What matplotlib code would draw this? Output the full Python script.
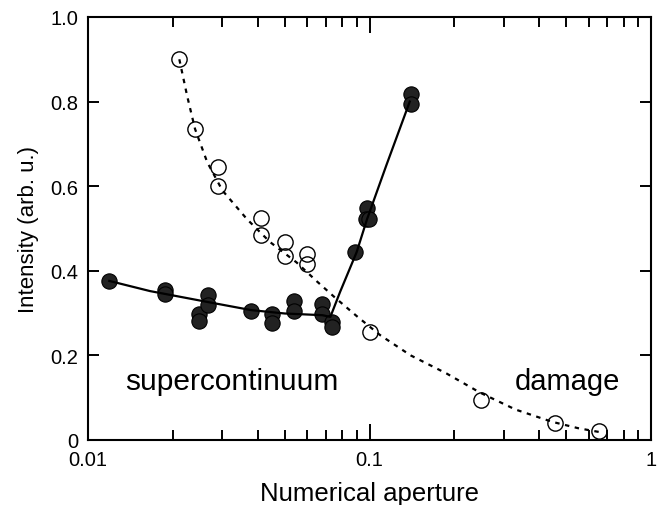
import numpy as np
import matplotlib
matplotlib.use('Agg')
from matplotlib import pyplot as plt
from matplotlib.ticker import FixedLocator, LogLocator, NullFormatter

plt.rcParams['font.family'] = ['Liberation Sans', 'DejaVu Sans']

# --- measured points
# supercontinuum intensity (filled circles)
sc_na = [0.0119, 0.0188, 0.0188, 0.0248, 0.0248, 0.0267, 0.0267, 0.0380,
         0.0452, 0.0452, 0.0541, 0.0541, 0.0680, 0.0680, 0.0738, 0.0738,
         0.0891, 0.0976, 0.0968, 0.0992, 0.140, 0.140]
sc_int = [0.376, 0.355, 0.345, 0.298, 0.282, 0.343, 0.318, 0.305,
          0.298, 0.277, 0.329, 0.305, 0.322, 0.298, 0.279, 0.267,
          0.444, 0.548, 0.522, 0.522, 0.818, 0.794]

# damage threshold (open circles)
dmg_na = [0.0211, 0.0240, 0.0290, 0.0290, 0.0413, 0.0413, 0.0502, 0.0502,
          0.0601, 0.0601, 0.100, 0.248, 0.455, 0.653]
dmg_int = [0.900, 0.735, 0.645, 0.600, 0.525, 0.485, 0.468, 0.435,
           0.440, 0.416, 0.255, 0.095, 0.040, 0.021]

# --- guide curves
sc_fit_na = [0.0119, 0.0166, 0.0267, 0.038, 0.050, 0.068, 0.0726, 0.0786,
             0.090, 0.098, 0.115, 0.139]
sc_fit_int = [0.376, 0.352, 0.326, 0.307, 0.299, 0.295, 0.291, 0.350,
              0.444, 0.522, 0.651, 0.800]

dmg_fit_na = [0.0211, 0.0225, 0.024, 0.0265, 0.030, 0.0367, 0.0443, 0.055,
              0.065, 0.075, 0.09, 0.109, 0.14, 0.188, 0.247, 0.33, 0.445,
              0.55, 0.653]
dmg_fit_int = [0.90, 0.813, 0.735, 0.657, 0.59, 0.522, 0.468, 0.42,
               0.375, 0.338, 0.293, 0.248, 0.20, 0.157, 0.112, 0.072, 0.043,
               0.028, 0.019]

yticks = [0, 0.2, 0.4, 0.6, 0.8, 1.0]
ytick_labels = ['0', '0.2', '0.4', '0.6', '0.8', '1.0']
xticks = [0.01, 0.1, 1]
xtick_labels = ['0.01', '0.1', '1']

fig = plt.figure(figsize=(6.67, 5.06), dpi=100)
ax = fig.add_axes([0.132, 0.1285, 0.844, 0.836])

# open circles then dotted curve on top
ax.plot(dmg_na, dmg_int, 'o', ms=11, mfc='none', mec='black', mew=1.0)
ax.plot(dmg_fit_na, dmg_fit_int, color='black', lw=1.6, ls=(0, (2, 2.5)))

# filled circles then solid curve
ax.plot(sc_na, sc_int, 'o', ms=11, mfc='#222222', mec='black', mew=0.8)
ax.plot(sc_fit_na, sc_fit_int, color='black', lw=1.6)

ax.text(0.01353, 0.12, 'supercontinuum', fontsize=21.5)
ax.text(0.329, 0.12, 'damage', fontsize=21)

ax.set_xscale('log')
ax.set_xlim(0.01, 1)
ax.set_ylim(0, 1.0)
ax.xaxis.set_major_locator(FixedLocator(xticks))
ax.set_xticklabels(xtick_labels)
ax.xaxis.set_minor_locator(LogLocator(base=10, subs=np.arange(2, 10)))
ax.xaxis.set_minor_formatter(NullFormatter())
ax.set_yticks(yticks)
ax.set_yticklabels(ytick_labels)

ax.tick_params(which='both', direction='in', top=True, right=True,
               labelsize=14.5, width=1.4)
ax.tick_params(axis='x', which='major', length=11.5, pad=7)
ax.tick_params(axis='y', which='major', length=8, pad=7)
ax.tick_params(which='minor', length=7)
for sp in ax.spines.values():
    sp.set_linewidth(1.5)

ax.set_xlabel('Numerical aperture', fontsize=18.5, labelpad=9)
ax.set_ylabel('Intensity (arb. u.)', fontsize=16, labelpad=8)

fig.savefig('out.png', dpi=100)
